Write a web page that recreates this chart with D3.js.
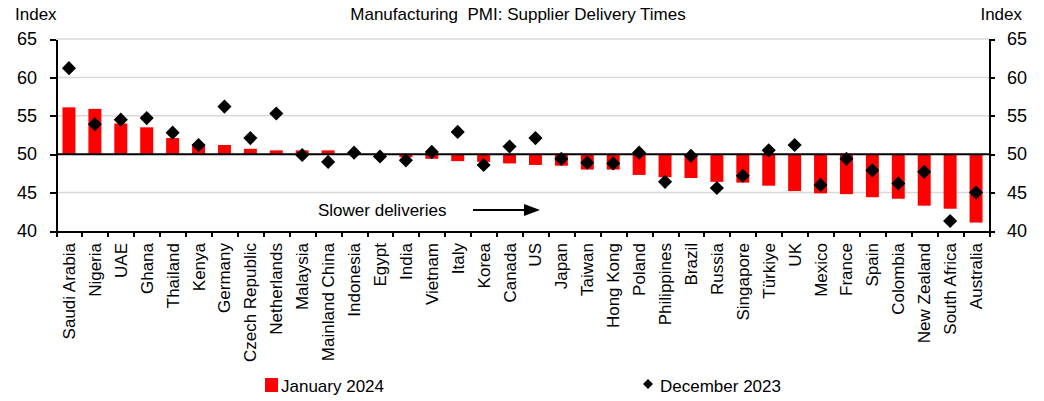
<!DOCTYPE html>
<html lang="en">
<head>
    <meta charset="utf-8" />
    <title>Manufacturing PMI: Supplier Delivery Times</title>
    <style>
        body {
            margin: 0;
            background-color: #fff;
            font-family: "Liberation Sans", Arial, sans-serif;
        }

        .axis path,
        .axis line {
            fill: none;
            stroke: #000;
            stroke-width: 2px;
            shape-rendering: crispEdges;
        }

        .axis text {
            font: 18px "Liberation Sans", Arial, sans-serif;
            fill: #000;
        }

        .grid line {
            stroke: #d9d9d9;
            stroke-width: 1.5px;
        }

        .lbl {
            font: 17px "Liberation Sans", Arial, sans-serif;
            fill: #000;
        }
    </style>
</head>
<body>
    <script src="https://d3js.org/d3.v7.min.js"></script>
    <script>
        // data, sorted by January 2024
        var countries = ["Saudi Arabia", "Nigeria", "UAE", "Ghana", "Thailand", "Kenya", "Germany",
            "Czech Republic", "Netherlands", "Malaysia", "Mainland China", "Indonesia", "Egypt", "India",
            "Vietnam", "Italy", "Korea", "Canada", "US", "Japan", "Taiwan", "Hong Kong", "Poland",
            "Philippines", "Brazil", "Russia", "Singapore", "Türkiye", "UK", "Mexico", "France", "Spain",
            "Colombia", "New Zealand", "South Africa", "Australia"]
        var jan2024 = [56.1, 55.9, 54.0, 53.5, 52.1, 51.3, 51.2, 50.7, 50.5, 50.5, 50.5, 50.1, 49.9, 49.6,
            49.4, 49.1, 49.0, 48.8, 48.6, 48.5, 48.0, 48.0, 47.3, 47.0, 46.9, 46.4, 46.3, 45.9, 45.2, 44.9,
            44.8, 44.4, 44.2, 43.3, 42.9, 41.1]
        var dec2023 = [61.2, 53.9, 54.5, 54.7, 52.8, 51.2, 56.2, 52.1, 55.3, 49.9, 49.0, 50.2, 49.7, 49.2,
            50.3, 52.9, 48.6, 51.0, 52.1, 49.4, 48.9, 48.8, 50.2, 46.4, 49.8, 45.6, 47.2, 50.5, 51.2, 46.0,
            49.4, 47.9, 46.2, 47.7, 41.3, 45.0]
        var yTicks = [40, 45, 50, 55, 60, 65]
        var gridTicks = [45, 55, 60, 65]
        var seriesNames = ["January 2024", "December 2023"]

        var W = 1044, H = 401
        var pLeft = 56, pRight = 989, pTop = 39, pBottom = 231

        var x = d3.scaleBand().domain(countries).range([pLeft, pRight]).padding(0)
        var xi = d3.scaleLinear().domain([0, countries.length]).range([pLeft, pRight])
        var y = d3.scaleLinear().domain([40, 65]).range([pBottom, pTop])

        var svg = d3.select("body").append("svg")
            .attr("width", W)
            .attr("height", H)

        // gridlines
        svg.append("g").attr("class", "grid")
            .selectAll("line").data(gridTicks).enter().append("line")
            .attr("x1", pLeft).attr("x2", pRight)
            .attr("y1", function (d) { return y(d) })
            .attr("y2", function (d) { return y(d) })

        // bars from the 50 line
        var bw = x.bandwidth() * 0.5
        svg.append("g").selectAll("rect")
            .data(jan2024).enter().append("rect")
            .attr("x", function (d, i) { return x(countries[i]) + (x.bandwidth() - bw) / 2 })
            .attr("y", function (d) { return y(Math.max(d, 50)) })
            .attr("width", bw)
            .attr("height", function (d) { return Math.abs(y(d) - y(50)) })
            .attr("fill", "#ff0000")

        // 50 line
        svg.append("line")
            .attr("x1", pLeft).attr("x2", pRight)
            .attr("y1", y(50)).attr("y2", y(50))
            .attr("stroke", "#000").attr("stroke-width", 2)

        // axes
        svg.append("g").attr("class", "axis")
            .attr("transform", "translate(" + pLeft + ",0)")
            .call(d3.axisLeft(y).tickValues(yTicks).tickSize(6).tickSizeOuter(0).tickPadding(13))

        svg.append("g").attr("class", "axis")
            .attr("transform", "translate(" + pRight + ",0)")
            .call(d3.axisRight(y).tickValues(yTicks).tickSize(6).tickSizeOuter(0).tickPadding(12))

        svg.append("g").attr("class", "axis")
            .attr("transform", "translate(0," + pBottom + ")")
            .call(d3.axisBottom(xi).tickValues(d3.range(countries.length + 1)).tickSize(6).tickSizeOuter(0).tickFormat(""))

        // category labels
        svg.append("g").selectAll("text")
            .data(countries).enter().append("text")
            .attr("class", "lbl")
            .attr("text-anchor", "end")
            .attr("transform", function (d) {
                return "translate(" + (x(d) + x.bandwidth() / 2 + 6) + "," + 243 + ")rotate(-90)"
            })
            .text(function (d) { return d })

        // December 2023 diamonds
        var diamond = d3.symbol().type(d3.symbolSquare).size(100)
        svg.append("g").selectAll("path")
            .data(dec2023).enter().append("path")
            .attr("d", diamond)
            .attr("transform", function (d, i) {
                return "translate(" + (x(countries[i]) + x.bandwidth() / 2) + "," + y(d) + ")rotate(45)"
            })
            .attr("fill", "#000")

        // titles
        svg.append("text").attr("class", "lbl")
            .attr("x", 518).attr("y", 20).attr("text-anchor", "middle")
            .style("white-space", "pre")
            .text("Manufacturing  PMI: Supplier Delivery Times")
        svg.append("text").attr("class", "lbl")
            .attr("x", 15).attr("y", 20).text("Index")
        svg.append("text").attr("class", "lbl")
            .attr("x", 1022).attr("y", 20).attr("text-anchor", "end").text("Index")

        // annotation with arrow
        svg.append("text").attr("class", "lbl")
            .attr("x", 318).attr("y", 216).text("Slower deliveries")
        svg.append("line")
            .attr("x1", 473).attr("x2", 526).attr("y1", 210).attr("y2", 210)
            .attr("stroke", "#000").attr("stroke-width", 2)
        svg.append("path")
            .attr("d", "M524,204L540,210L524,216Z")
            .attr("fill", "#000")

        // legend
        svg.append("rect")
            .attr("x", 265).attr("y", 378).attr("width", 13).attr("height", 14)
            .attr("fill", "#ff0000")
        svg.append("text").attr("class", "lbl")
            .attr("x", 281).attr("y", 392).text(seriesNames[0])
        svg.append("path")
            .attr("d", d3.symbol().type(d3.symbolSquare).size(50))
            .attr("transform", "translate(648,384)rotate(45)")
            .attr("fill", "#000")
        svg.append("text").attr("class", "lbl")
            .attr("x", 660).attr("y", 392).text(seriesNames[1])
    </script>
</body>
</html>
